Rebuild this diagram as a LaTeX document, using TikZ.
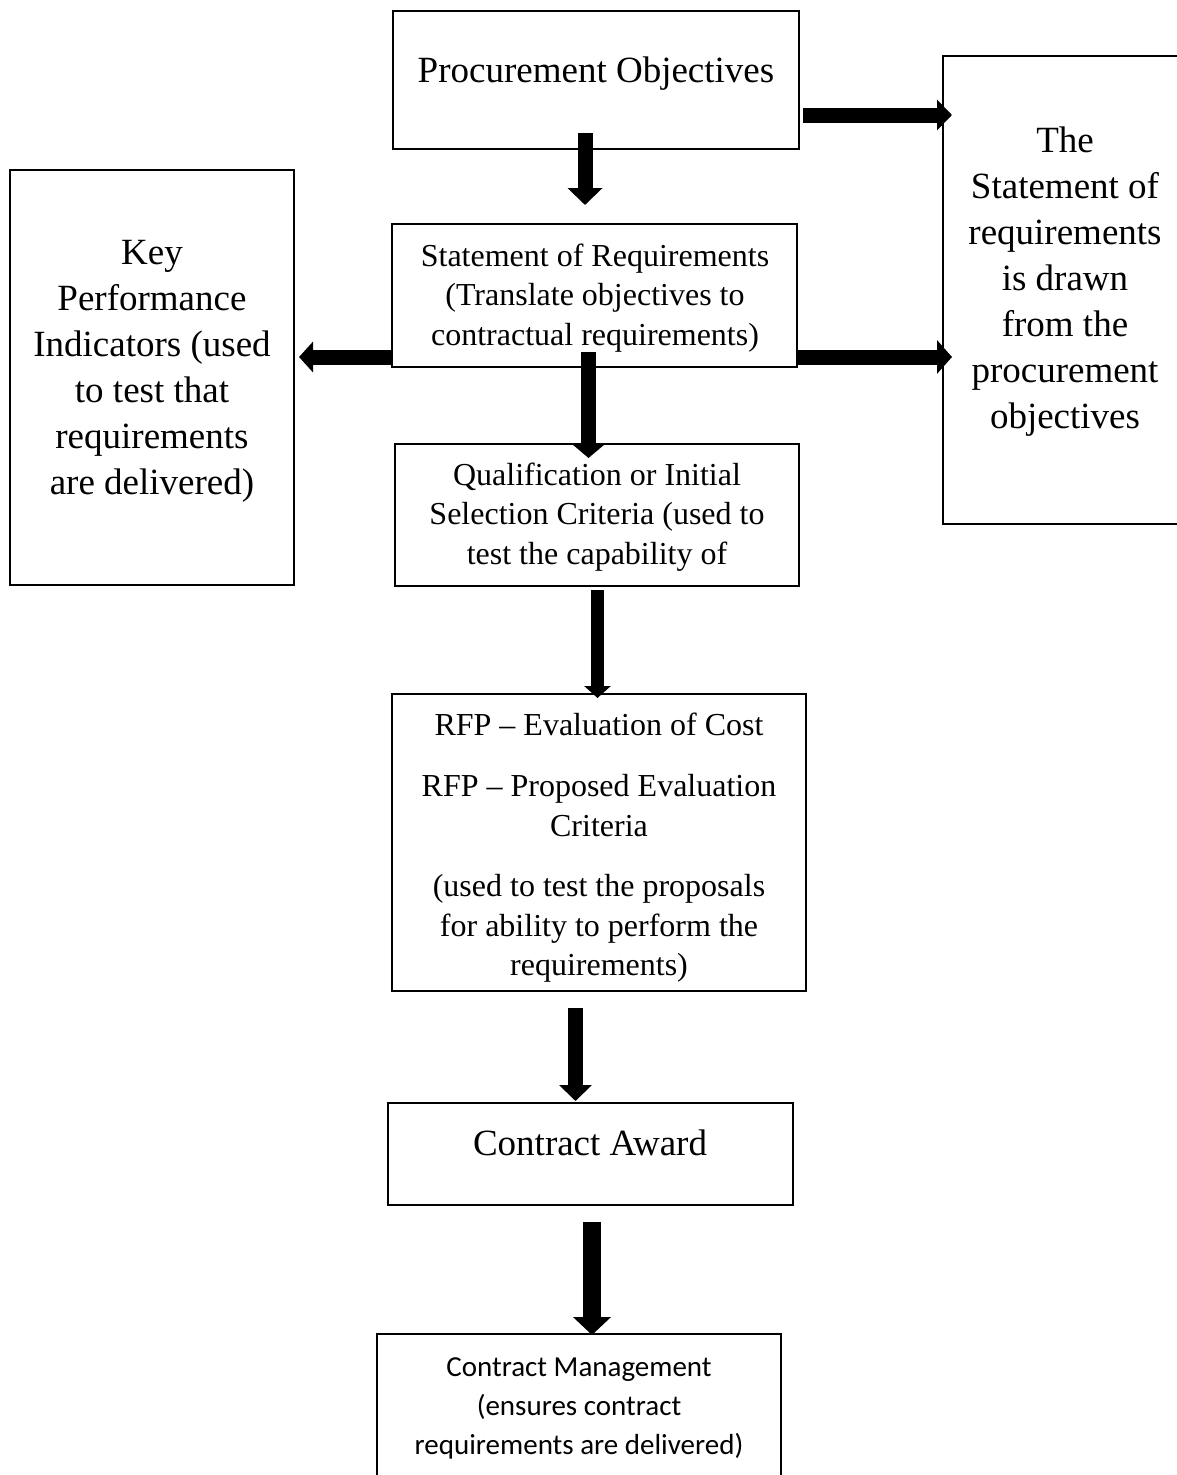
\documentclass[tikz,border=0pt]{standalone}
\usepackage{fontspec}
\setmainfont{Liberation Serif}
\newfontfamily\calibfont{Carlito}
\usetikzlibrary{arrows.meta,calc}
% first-line struts: fix the height of the top line so the first baseline is known
\newcommand\firstbig{\rule{0pt}{32.2pt}}
\newcommand\firstmid{\rule{0pt}{27.65pt}}
\newcommand\firstsans{\rule{0pt}{27.3pt}}
\begin{document}
\begin{tikzpicture}[x=1pt,y=-1pt,
  box/.style={draw=black, line width=2.2pt, fill=white, rectangle,
    inner sep=0pt, outer sep=0pt, anchor=north west},
  bigtext/.style={font=\fontsize{37}{46}\selectfont, align=center,
    inner sep=0pt, anchor=north},
  midtext/.style={font=\fontsize{32}{39.5}\selectfont, align=center,
    inner sep=0pt, anchor=north},
  sanstext/.style={font=\calibfont\fontsize{29}{39}\selectfont, align=center,
    inner sep=0pt, anchor=north},
  bigarrow/.style={line width=15pt, -{Triangle[width=34pt,length=17pt]}},
]
\useasboundingbox (0,0) rectangle (1177,1475);
\fill[white] (0,0) rectangle (1177,1475);

% boxes
\node[box, minimum width=406pt, minimum height=138pt] (po)   at (393,11)   {};
\node[box, minimum width=262pt, minimum height=468pt] (sr)   at (943,56)   {};
\node[box, minimum width=284pt, minimum height=415pt] (kpi)  at (10,170)   {};
\node[box, minimum width=405pt, minimum height=143pt] (sor)  at (392,224)  {};
\node[box, minimum width=404pt, minimum height=142pt] (qual) at (395,444)  {};
\node[box, minimum width=414pt, minimum height=297pt] (rfp)  at (392,694)  {};
\node[box, minimum width=405pt, minimum height=102pt] (ca)   at (388,1103) {};
\node[box, minimum width=404pt, minimum height=160pt] (cm)   at (377,1334) {};

% box texts
\node[bigtext] (pot) at (596,49.8) {\firstbig Procurement Objectives};
\node[bigtext] (srt) at (1065,119.8) {\firstbig The\\Statement of\\requirements\\is drawn\\from the\\procurement\\objectives};
\node[bigtext] (kpit) at (152,231.8) {\firstbig Key\\Performance\\Indicators (used\\to test that\\requirements\\are delivered)};
\node[midtext] (sort) at (595,238.35) {\firstmid Statement of Requirements\\(Translate objectives to\\contractual requirements)};
\node[midtext] (qualt) at (597,457.35) {\firstmid Qualification or Initial\\Selection Criteria (used to\\test the capability of};
\node[midtext] (rfpt) at (599,707.35) {\firstmid RFP – Evaluation of Cost\\[22pt]RFP – Proposed Evaluation\\Criteria\\[21pt](used to test the proposals\\for ability to perform the\\requirements)};
\node[bigtext] (cat) at (590,1122.8) {\firstbig Contract Award};
\node[sanstext] (cmt) at (579,1348.7) {\firstsans Contract Management\\(ensures contract\\requirements are delivered)};

% block arrows
\coordinate (a1) at ($(po.south)+(-11,-16)$);
\draw[bigarrow] (a1) -- ([yshift=19pt]a1 |- sor.north);

\coordinate (a2) at ($(po.south east)+(4,-34)$);
\draw[line width=15pt, -{Triangle[width=30pt,length=15pt]}] (a2) -- ([xshift=9pt]a2 -| sr.west);

\coordinate (a3) at ($(sor.south east)+(0,-10)$);
\draw[line width=15pt, -{Triangle[width=33pt,length=15pt]}] (a3) -- ([xshift=9pt]a3 -| sr.west);

\coordinate (a4) at ($(sor.south west)+(0,-10)$);
\draw[line width=15pt, -{Triangle[width=30pt,length=14pt]}] (a4) -- ([xshift=5pt]a4 -| kpi.east);

\coordinate (a5) at ($(sor.south)+(-6,-15)$);
\draw[line width=15pt, -{Triangle[width=30pt,length=13pt]}] (a5) -- ([yshift=-14pt]a5 |- qual.north);

\coordinate (a6) at ($(qual.south)+(0.5,4)$);
\draw[line width=13pt, -{Triangle[width=26pt,length=12pt]}] (a6) -- ([yshift=-4pt]a6 |- rfp.north);

\coordinate (a7) at ($(rfp.south)+(-23.5,17)$);
\draw[line width=15pt, -{Triangle[width=32pt,length=16pt]}] (a7) -- ([yshift=2pt]a7 |- ca.north);

\coordinate (a8) at ($(ca.south)+(1.5,17)$);
\draw[line width=18pt, -{Triangle[width=37pt,length=18pt]}] (a8) -- ([yshift=-1pt]a8 |- cm.north);
\end{tikzpicture}
\end{document}
